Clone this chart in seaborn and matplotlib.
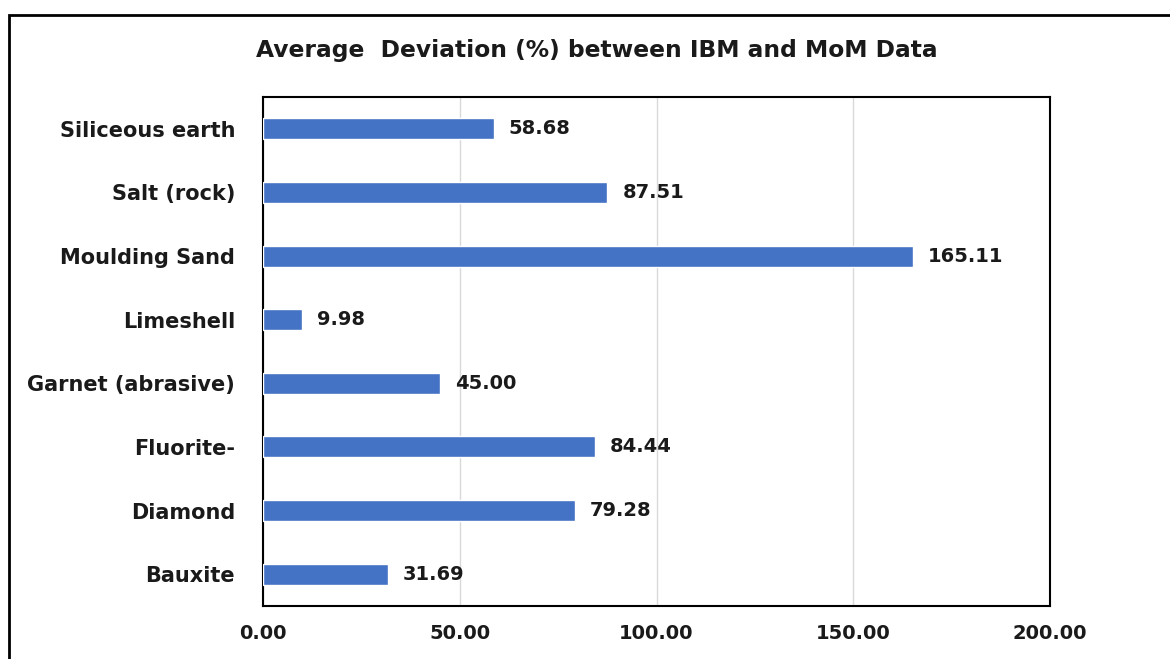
import matplotlib
matplotlib.use("Agg")
import matplotlib.pyplot as plt
import seaborn as sns
import pandas as pd
from matplotlib.patches import Rectangle

categories = ["Siliceous earth", "Salt (rock)", "Moulding Sand", "Limeshell",
              "Garnet (abrasive)", "Fluorite-", "Diamond", "Bauxite"]
values = [58.68, 87.51, 165.11, 9.98, 45.00, 84.44, 79.28, 31.69]
xticks = [0, 50, 100, 150, 200]
title = "Average  Deviation (%) between IBM and MoM Data"

sns.set_theme(style="white")
plt.rcParams['font.family'] = ['DejaVu Sans']

df = pd.DataFrame({"cat": categories, "val": values})

FS = 14
fig = plt.figure(figsize=(11.7, 6.59), dpi=100)
W, H = 1170, 659
ax = fig.add_axes([263 / W, 1 - 606 / H, (1050 - 263) / W, (606 - 97) / H])

sns.barplot(data=df, x="val", y="cat", orient="h", color="#4472C4",
            width=0.33, saturation=1, ax=ax, zorder=3)

ax.set_xlim(0, 200)
ax.set_ylim(7.5, -0.5)
ax.set_xticks(xticks)
ax.set_xticklabels([f"{t:.2f}" for t in xticks], fontsize=FS, fontweight="bold", color="#1a1a1a")
ax.tick_params(axis="x", pad=13, length=0)
ax.tick_params(axis="y", pad=20, length=0)
for lbl in ax.get_yticklabels():
    lbl.set_fontsize(15)
    lbl.set_fontweight("bold")
    lbl.set_color("#1a1a1a")
ax.set_xlabel("")
ax.set_ylabel("")
ax.xaxis.grid(True, color="#d9d9d9", linewidth=1, zorder=0)
ax.yaxis.grid(False)
for s in ax.spines.values():
    s.set_visible(True)
    s.set_color("black")
    s.set_linewidth(1.5)

for i, v in enumerate(values):
    ax.text(v + 3.8, i, f"{v:.2f}", va="center", ha="left", fontsize=FS,
            fontweight="bold", color="#1a1a1a")

fig.text(597 / W, 1 - 50 / H, title, ha="center", va="center", fontsize=16.8,
         fontweight="bold", color="#1a1a1a")

fig.patches.append(Rectangle((9 / W, -0.05), 1.2, 1 - 15 / H + 0.05,
                             transform=fig.transFigure, fill=False,
                             edgecolor="black", linewidth=2))

fig.savefig("out.png", dpi=100)
